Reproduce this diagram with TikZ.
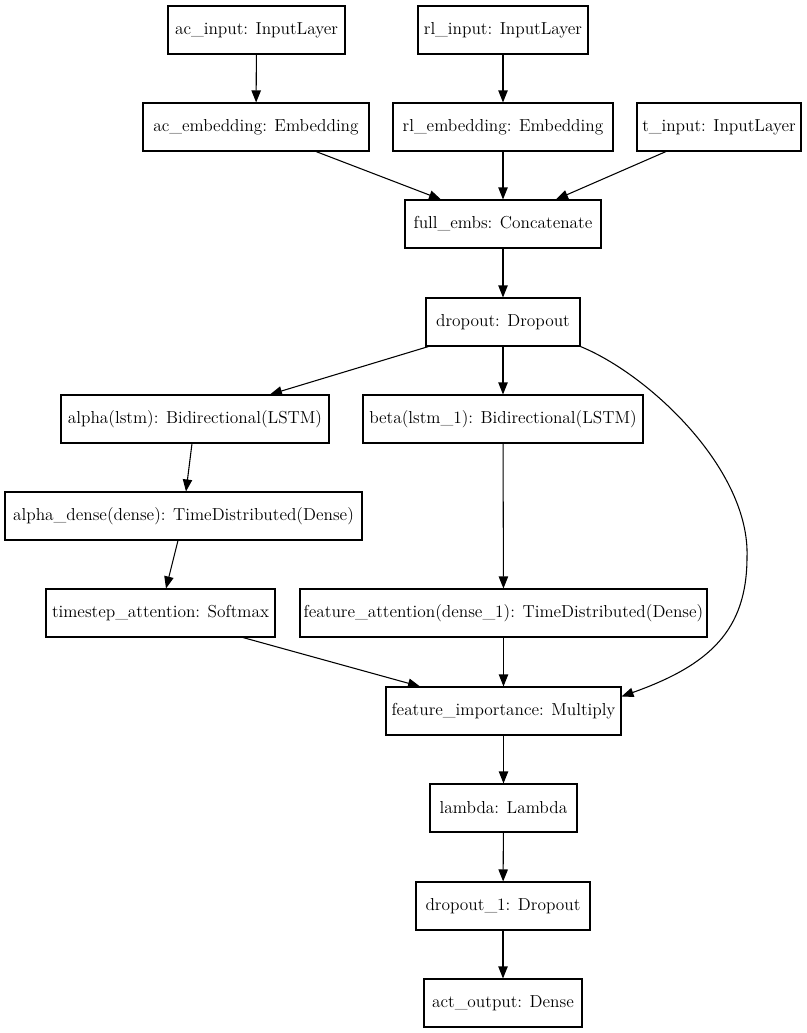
\documentclass[tikz,border=0pt]{standalone}
\usepackage{fontspec}
\usetikzlibrary{arrows.meta,calc}
\tikzset{
  layer/.style={draw=black, line width=0.8pt, minimum height=36pt, inner sep=0pt,
    font=\rmfamily\fontsize{13}{15}\selectfont, anchor=center},
  w/.style={minimum width=#1*0.75pt},
  edge/.style={line width=0.8pt, -{Triangle[length=9pt,width=7pt]}}
}
\begin{document}
\begin{tikzpicture}[x=0.75pt,y=-0.75pt]
\useasboundingbox (0,0) rectangle (807,1033);
\node[layer,w=177] (acin)  at (256.5,30)  {ac\_input: InputLayer};
\node[layer,w=170] (rlin)  at (503,30)    {rl\_input: InputLayer};
\node[layer,w=226] (acemb) at (256,127)   {ac\_embedding: Embedding};
\node[layer,w=220] (rlemb) at (503,127)   {rl\_embedding: Embedding};
\node[layer,w=164] (tin)   at (719,127)   {t\_input: InputLayer};
\node[layer,w=196] (full)  at (503,224)   {full\_embs: Concatenate};
\node[layer,w=154] (drop)  at (503,322)   {dropout: Dropout};
\node[layer,w=268] (alpha) at (195,419)   {alpha(lstm): Bidirectional(LSTM)};
\node[layer,w=280] (beta)  at (503,419)   {beta(lstm\_1): Bidirectional(LSTM)};
\node[layer,w=357] (adense) at (183.5,516) {alpha\_dense(dense): TimeDistributed(Dense)};
\node[layer,w=229] (ts)    at (160.5,613) {timestep\_attention: Softmax};
\node[layer,w=407] (fatt)  at (503.5,613) {feature\_attention(dense\_1): TimeDistributed(Dense)};
\node[layer,w=235] (imp)   at (503.5,711) {feature\_importance: Multiply};
\node[layer,w=147] (lam)   at (503.5,808) {lambda: Lambda};
\node[layer,w=174] (drop1) at (503,906)   {dropout\_1: Dropout};
\node[layer,w=158] (out)   at (503,1003)  {act\_output: Dense};

\draw[edge] (acin) -- (acemb);
\draw[edge] (rlin) -- (rlemb);
\draw[edge] ($(acemb.south)+(60,0)$) -- ($(full.north)+(-62,0)$);
\draw[edge] (rlemb) -- (full);
\draw[edge] ($(tin.south)+(-53,0)$) -- ($(full.north)+(53,0)$);
\draw[edge] (full) -- (drop);
\draw[edge] ($(drop.south west)+(3,0)$) -- ($(alpha.north)+(75,0)$);
\draw[edge] (drop) -- (beta);
\draw[edge] (drop.south east) .. controls (650,375) and (750,470) .. (747,557)
  .. controls (747,630) and (710,665) .. ($(imp.north east)+(0,10)$);
\draw[edge] ($(alpha.south)+(-3,0)$) -- ($(adense.north)+(2.5,0)$);
\draw[edge] ($(adense.south)+(-5.5,0)$) -- ($(ts.north)+(5.5,0)$);
\draw[edge] ($(ts.south)+(82.5,0)$) -- ($(imp.north)+(-83.5,0)$);
\draw[edge] (beta) -- (fatt);
\draw[edge] (fatt) -- (imp);
\draw[edge] (imp) -- (lam);
\draw[edge] (lam) -- (drop1);
\draw[edge] (drop1) -- (out);
\end{tikzpicture}
\end{document}
